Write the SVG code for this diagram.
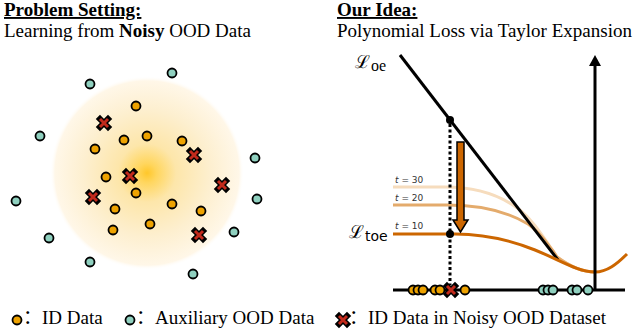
<svg xmlns="http://www.w3.org/2000/svg" width="634" height="332" viewBox="0 0 634 332">
<style>
.ser{font-family:"Liberation Serif","Noto Sans CJK SC",serif;font-size:19px;fill:#000}
.b{font-weight:bold}
.tl{font-family:"DejaVu Sans",sans-serif;font-size:9px;fill:#333}
.id{fill:#eda200;stroke:#000;stroke-width:1.8}
.od{fill:#8fd0bf;stroke:#000;stroke-width:1.8}
.ax{stroke:#000;stroke-width:3;fill:none}
</style>
<defs>
<radialGradient id="glow" cx="147" cy="173" r="97" gradientUnits="userSpaceOnUse">
<stop offset="0" stop-color="#ffc72a"/>
<stop offset="0.1" stop-color="#ffd65e"/>
<stop offset="0.3" stop-color="#fde6aa"/>
<stop offset="0.65" stop-color="#fdefcf"/>
<stop offset="0.95" stop-color="#fff7e8"/>
<stop offset="1" stop-color="#ffffff" stop-opacity="0"/>
</radialGradient>
<g id="xm">
<path d="M-4,-4L4,4M4,-4L-4,4" stroke="#000" stroke-width="6" stroke-linecap="square"/>
<path d="M-4,-4L4,4M4,-4L-4,4" stroke="#c22a1c" stroke-width="3"/>
</g>
<circle id="ci" r="4.5" class="id"/>
<circle id="co" r="4.5" class="od"/>
</defs>

<g id="titles">
<text class="ser b" x="4" y="16" text-decoration="underline">Problem Setting:</text>
<text class="ser" x="4" y="37">Learning from <tspan class="b">Noisy</tspan> OOD Data</text>
<text class="ser b" x="337" y="16" text-decoration="underline">Our Idea:</text>
<text class="ser" x="337" y="37">Polynomial Loss via Taylor Expansion</text>
</g>

<g id="scatter">
<circle cx="147" cy="173" r="97" fill="url(#glow)"/>
<g id="ood-points">
<use href="#co" x="172" y="73"/><use href="#co" x="90" y="84"/><use href="#co" x="40" y="136"/>
<use href="#co" x="255" y="158"/><use href="#co" x="257" y="199"/><use href="#co" x="16" y="201"/>
<use href="#co" x="234" y="232"/><use href="#co" x="49" y="238"/><use href="#co" x="90" y="262"/>
<use href="#co" x="193" y="274"/>
</g>
<g id="id-points">
<use href="#ci" x="136" y="106"/><use href="#ci" x="124" y="140"/><use href="#ci" x="147" y="136"/>
<use href="#ci" x="182" y="141"/><use href="#ci" x="95" y="149"/><use href="#ci" x="106" y="177"/>
<use href="#ci" x="136" y="193"/><use href="#ci" x="172" y="204"/><use href="#ci" x="115" y="209"/>
<use href="#ci" x="201" y="211"/><use href="#ci" x="150" y="224"/><use href="#ci" x="113" y="230"/>
</g>
<g id="noisy-points">
<use href="#xm" x="104" y="123"/><use href="#xm" x="194" y="155"/><use href="#xm" x="130" y="176"/>
<use href="#xm" x="222" y="185"/><use href="#xm" x="93" y="197"/><use href="#xm" x="199" y="235"/>
</g>
</g>

<g id="plot">
<g id="curves" fill="none">
<path d="M393,187 L445,187 C478,187 502,196 520,210 C532,220 540,232 549,245 L557,257 C572,268 583,272 595,272" stroke="#f6dcbd" stroke-width="3"/>
<path d="M393,205 L448,205 C480,205 508,212 528,224 C540,232 546,242 553,251 L557,257 C572,268 583,272 595,272" stroke="#e4ab6c" stroke-width="3"/>
<path d="M400,55 L558,260" stroke="#000" stroke-width="3"/>
<path d="M393,234 L455,234 C485,234 510,240 535,250 C560,260 578,272 595,272 C607,272 617,264 627,254" stroke="#cc6600" stroke-width="3"/>
</g>
<g id="axes">
<line class="ax" x1="393" y1="290" x2="625" y2="290"/>
<line class="ax" x1="595" y1="291" x2="595" y2="64"/>
<polygon points="589,66 595,55 601,66" fill="#000"/>
</g>
<line id="dotted" x1="450" y1="124" x2="450" y2="285" stroke="#000" stroke-width="3" stroke-dasharray="3,2.5"/>
<circle cx="450" cy="120" r="4" fill="#000"/>
<circle cx="450" cy="234" r="4" fill="#000"/>
<path id="down-arrow" d="M457,142 L464,142 L464,220 L468,220 L460.5,232 L453,220 L457,220 Z" fill="#cc6600" stroke="#000" stroke-width="1.5" stroke-linejoin="miter"/>
<g id="t-labels">
<text class="tl" x="395" y="183"><tspan font-style="italic">t</tspan> = 30</text>
<text class="tl" x="395" y="201"><tspan font-style="italic">t</tspan> = 20</text>
<text class="tl" x="395" y="229"><tspan font-style="italic">t</tspan> = 10</text>
</g>
<g id="loss-labels">
<text x="355" y="68" font-family="DejaVu Serif,serif" font-size="18">ℒ<tspan dx="1" dy="3" font-family="'Liberation Serif',serif" font-size="16">oe</tspan></text>
<text x="349" y="238" font-family="DejaVu Serif,serif" font-size="18">ℒ<tspan dx="1" dy="3" font-family="'DejaVu Sans',sans-serif" font-size="14">toe</tspan></text>
</g>
<g id="axis-points">
<use href="#ci" x="413" y="290"/><use href="#ci" x="418" y="290"/><use href="#ci" x="423" y="290"/>
<use href="#ci" x="435" y="290"/><use href="#ci" x="440" y="290"/>
<use href="#xm" x="451" y="290"/>
<use href="#ci" x="465" y="290"/>
<use href="#co" x="543" y="290"/><use href="#co" x="548" y="290"/><use href="#co" x="553" y="290"/>
<use href="#co" x="572" y="290"/><use href="#co" x="577" y="290"/><use href="#co" x="588" y="290"/>
</g>
</g>

<g id="legend">
<use href="#ci" x="17" y="320"/>
<text class="ser" x="23" y="324">：ID Data</text>
<use href="#co" x="130" y="320"/>
<text class="ser" x="136" y="324">：Auxiliary OOD Data</text>
<use href="#xm" x="343" y="320"/>
<text class="ser" x="349" y="324">：ID Data in Noisy OOD Dataset</text>
</g>
</svg>
